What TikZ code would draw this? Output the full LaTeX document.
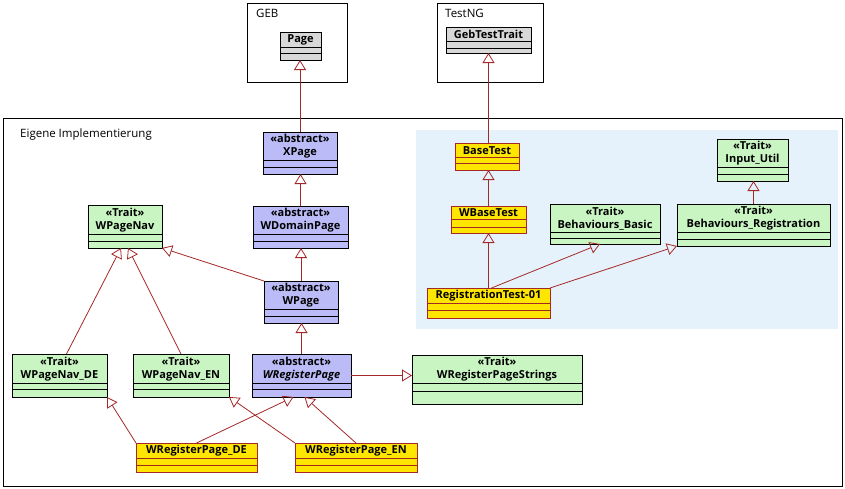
\documentclass[tikz,border=0pt]{standalone}
\usepackage{fontspec}
\setmainfont{Open Sans}
\usetikzlibrary{arrows.meta,calc}
\definecolor{cgray}{HTML}{D8D8D8}
\definecolor{cblue}{HTML}{BBBBF7}
\definecolor{cgreen}{HTML}{C8F5C2}
\definecolor{cyellow}{HTML}{FFE600}
\definecolor{cbg}{HTML}{E6F2FB}
\definecolor{cred}{HTML}{A52828}
\tikzset{
  clsbase/.style={draw, rectangle, inner sep=0pt, outer sep=0pt, line width=0.9pt},
  grayc/.style={clsbase, fill=cgray, draw=black},
  grayc line/.style={draw=black, line width=0.9pt},
  bluec/.style={clsbase, fill=cblue, draw=black},
  bluec line/.style={draw=black, line width=0.9pt},
  greenc/.style={clsbase, fill=cgreen, draw=black},
  greenc line/.style={draw=black, line width=0.9pt},
  yellowc/.style={clsbase, fill=cyellow, draw=cred},
  yellowc line/.style={draw=cred, line width=0.9pt},
  ctext/.style={font=\fontsize{11}{13}\selectfont\bfseries, align=center, inner sep=0pt},
  pkg/.style={draw=black, line width=0.9pt},
  pkgtext/.style={font=\fontsize{11.5}{13}\selectfont, anchor=west, inner sep=0pt},
  inh/.style={draw=cred, line width=0.8pt, -{Triangle[open, length=10pt, width=12pt, line width=0.8pt]}},
}
% name, x1, y1, x2, y2, sep1, sep2, style, text
\newcommand\umlcls[9]{%
  \node[#8, minimum width={#4-#2}, minimum height={#5-#3}] (#1) at ({(#2+#4)/2},{(#3+#5)/2}) {};
  \draw[#8 line] (#2,#6) -- (#4,#6) (#2,#7) -- (#4,#7);
  \node[ctext] (#1-t) at ({(#2+#4)/2},{(#3+#6)/2+0.5}) {#9};
}
\begin{document}
\begin{tikzpicture}[x=1pt,y=-1pt]
\useasboundingbox (0,0) rectangle (845,488);
\fill[white] (0,0) rectangle (845,488);
% outer package
\draw[pkg] (3,118) rectangle (842,486);
\node[pkgtext] (implabel) at (20,135) {Eigene Implementierung};
\fill[cbg] (416,130) rectangle (838,329);
% GEB / TestNG
\draw[pkg] (247,3) rectangle (347,82);
\node[pkgtext] (geblabel) at (256,13) {GEB};
\draw[pkg] (437,3) rectangle (543,82);
\node[pkgtext] (testnglabel) at (445,13) {TestNG};

% classes
\umlcls{page}{280}{32}{321}{60}{47}{53}{grayc}{Page}
\umlcls{gebtt}{446}{27}{531}{53}{41}{48}{grayc}{GebTestTrait}
\umlcls{xpage}{263}{132}{337}{174}{160}{167}{bluec}{«abstract»\\XPage}
\umlcls{wdomain}{253}{206}{348}{248}{234}{241}{bluec}{«abstract»\\WDomainPage}
\umlcls{wpagenav}{88}{205}{162}{248}{234}{241}{greenc}{«Trait»\\WPageNav}
\umlcls{wpage}{264}{281}{338}{323}{309}{316}{bluec}{«abstract»\\WPage}
\umlcls{navde}{12}{354}{107}{397}{383}{389}{greenc}{«Trait»\\WPageNav\_DE}
\umlcls{naven}{133}{354}{229}{397}{383}{389}{greenc}{«Trait»\\WPageNav\_EN}
\umlcls{wreg}{252}{354}{351}{397}{383}{389}{bluec}{«abstract»\\\textit{WRegisterPage}}
\umlcls{wregstr}{412}{355}{582}{404}{383}{391}{greenc}{«Trait»\\WRegisterPageStrings}
\umlcls{regde}{136}{443}{257}{472}{458}{465}{yellowc}{WRegisterPage\_DE}
\umlcls{regen}{295}{443}{417}{472}{458}{465}{yellowc}{WRegisterPage\_EN}
\umlcls{basetest}{455}{143}{519}{170}{157}{163}{yellowc}{BaseTest}
\umlcls{wbasetest}{451}{206}{526}{233}{219}{227}{yellowc}{WBaseTest}
\umlcls{inpututil}{717}{139}{788}{181}{167}{174}{greenc}{«Trait»\\Input\_Util}
\umlcls{bbasic}{550}{204}{660}{244}{232}{238}{greenc}{«Trait»\\Behaviours\_Basic}
\umlcls{breg}{677}{204}{830}{246}{232}{239}{greenc}{«Trait»\\Behaviours\_Registration}
\umlcls{regtest}{427}{288}{550}{318}{303}{310}{yellowc}{RegistrationTest-01}

% inheritance connectors
\draw[inh] (xpage.north) -- (xpage.north |- page.south);
\draw[inh] (basetest.north -| gebtt.south) -- (gebtt.south);
\draw[inh] (wdomain.north) -- (wdomain.north |- xpage.south);
\draw[inh] (wpage.north) -- (wpage.north |- wdomain.south);
\draw[inh] (wpage.north west) -- (wpagenav.south east);
\draw[inh] ($(navde.north)+(7,0)$) -- ($(wpagenav.south)+(-4,0)$);
\draw[inh] (naven.north) -- ($(wpagenav.south)+(3,0)$);
\draw[inh] (wreg.north) -- (wreg.north |- wpage.south);
\draw[inh] (wreg.east) -- (wreg.east -| wregstr.west);
\draw[inh] (regde.north west) -- (navde.south east);
\draw[inh] (regde.north) -- ($(wreg.south)+(-8,0)$);
\draw[inh] (regen.north west) -- (naven.south east);
\draw[inh] (regen.north) -- ($(wreg.south)+(3,0)$);
\draw[inh] (wbasetest.north) -- (wbasetest.north |- basetest.south);
\draw[inh] (regtest.north) -- (regtest.north |- wbasetest.south);
\draw[inh] ($(regtest.north)+(3,0)$) -- ($(bbasic.south)+(-5,0)$);
\draw[inh] (regtest.north east) -- (breg.south west);
\draw[inh] (breg.north) -- (breg.north |- inpututil.south);
\end{tikzpicture}
\end{document}
